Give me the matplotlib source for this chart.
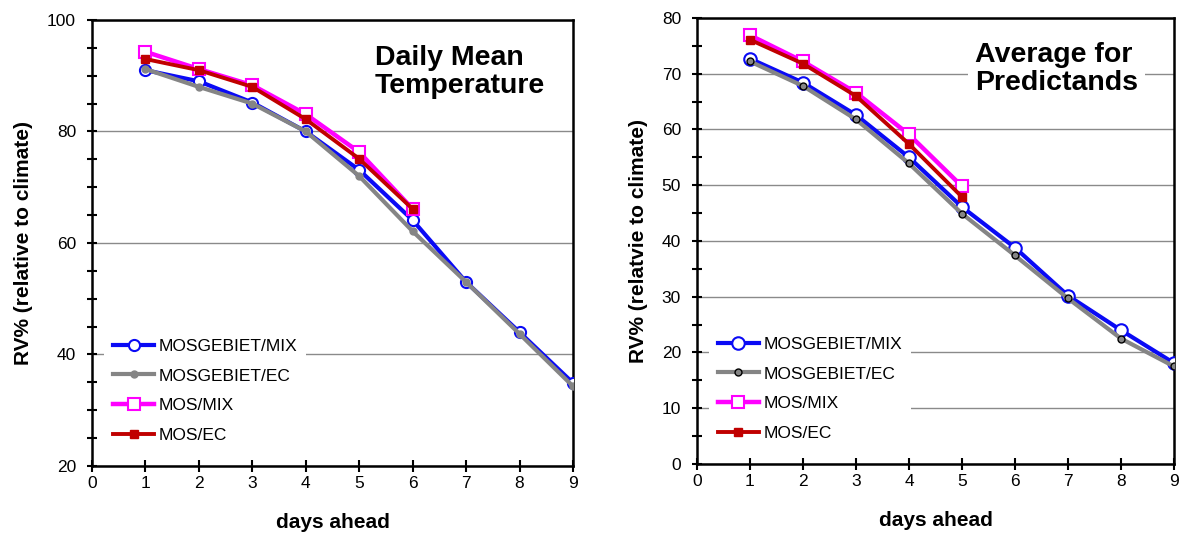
import numpy as np
import matplotlib
matplotlib.use("Agg")
import matplotlib.pyplot as plt
from matplotlib.ticker import MultipleLocator

plt.rcParams["font.family"] = ["Liberation Sans", "DejaVu Sans"]

# ─── DATA ────────────────────────────────────────────────────────────────────
days = [1, 2, 3, 4, 5, 6, 7, 8, 9]
days_mos_t = [1, 2, 3, 4, 5, 6]
days_mos_a = [1, 2, 3, 4, 5]

# Daily mean temperature
temp_gebiet_mix = [91.0, 89.0, 85.2, 80.0, 73.1, 64.1, 53.0, 44.0, 34.9]
temp_gebiet_ec = [91.2, 88.0, 85.0, 80.0, 72.0, 62.1, 53.0, 43.7, 34.3]
temp_mos_mix = [94.3, 91.2, 88.3, 83.1, 76.3, 66.1]
temp_mos_ec = [93.0, 91.0, 88.0, 82.2, 75.1, 66.1]

# Average for predictands
avg_gebiet_mix = [72.7, 68.4, 62.6, 55.0, 46.1, 38.8, 30.2, 24.0, 18.1]
avg_gebiet_ec = [72.2, 67.8, 61.8, 53.9, 44.9, 37.4, 29.7, 22.5, 17.5]
avg_mos_mix = [76.9, 72.2, 66.6, 59.1, 49.8]
avg_mos_ec = [76.1, 71.8, 66.0, 57.4, 47.9]

labels = ["MOSGEBIET/MIX", "MOSGEBIET/EC", "MOS/MIX", "MOS/EC"]

BLUE = "#0A0AF5"
GREY = "#858585"
MAGENTA = "#FF00FF"
RED = "#C00000"

fig = plt.figure(figsize=(11.87, 5.33), dpi=100)
ax1 = fig.add_axes([0.0775, 0.1257, 0.4052, 0.8368])
ax2 = fig.add_axes([0.5872, 0.1295, 0.4018, 0.8368])


def draw_panel(ax, gm, ge, mm, me, days_mos, ylo, yhi, ystep, ylabel, title,
               title_x, grey_edge, circ_size):
    ax.plot(days, gm, color=BLUE, lw=3, marker="o", ms=circ_size,
            mfc="white", mec=BLUE, mew=1.5, label=labels[0], zorder=3)
    ax.plot(days, ge, color=GREY, lw=3, marker="o", ms=5,
            mfc=GREY, mec=grey_edge, mew=1.0, label=labels[1], zorder=4)
    ax.plot(days_mos, mm, color=MAGENTA, lw=3.2, marker="s", ms=8,
            mfc="white", mec=MAGENTA, mew=1.5, label=labels[2], zorder=5)
    ax.plot(days_mos, me, color=RED, lw=2.8, marker="s", ms=6,
            mfc=RED, mec=RED, label=labels[3], zorder=6)

    ax.set_xlim(0, 9)
    ax.set_ylim(ylo, yhi)
    ax.xaxis.set_major_locator(MultipleLocator(1))
    ax.yaxis.set_major_locator(MultipleLocator(ystep))
    ax.yaxis.set_minor_locator(MultipleLocator(5))
    ax.grid(axis="y", which="major", color="#8a8a8a", lw=1.0, zorder=0)
    ax.set_axisbelow(True)

    for s in ax.spines.values():
        s.set_linewidth(1.8)
        s.set_color("black")
    ax.tick_params(axis="x", direction="inout", length=8, width=1.5,
                   labelsize=12.5, pad=3)
    ax.tick_params(axis="y", which="both", direction="inout", length=7,
                   width=1.5, labelsize=12.5, pad=8)

    ax.set_xlabel("days ahead", fontsize=15, fontweight="bold", labelpad=16)
    ax.set_ylabel(ylabel, fontsize=15, fontweight="bold", labelpad=10)

    ax.text(title_x, 0.945, title, transform=ax.transAxes, ha="left",
            va="top", multialignment="left", fontsize=20.5,
            fontweight="bold", linespacing=1.1, zorder=2,
            bbox=dict(facecolor="white", edgecolor="none", pad=5))

    leg = ax.legend(loc="upper left", bbox_to_anchor=(0.026, 0.305),
                    borderaxespad=0, borderpad=0.5, fontsize=12.5,
                    handlelength=2.35, handletextpad=0.25, labelspacing=0.84,
                    numpoints=1, frameon=True, fancybox=False)
    leg.get_frame().set_facecolor("white")
    leg.get_frame().set_edgecolor("none")
    leg.get_frame().set_alpha(1)
    leg.set_zorder(1.5)


draw_panel(ax1, temp_gebiet_mix, temp_gebiet_ec, temp_mos_mix, temp_mos_ec,
           days_mos_t, 20, 100, 20, "RV% (relative to climate)",
           "Daily Mean\nTemperature", 0.588, GREY, 8)
draw_panel(ax2, avg_gebiet_mix, avg_gebiet_ec, avg_mos_mix, avg_mos_ec,
           days_mos_a, 0, 80, 10, "RV% (relatvie to climate)",
           "Average for\nPredictands", 0.583, "black", 9)

fig.savefig("out.png", dpi=100)
